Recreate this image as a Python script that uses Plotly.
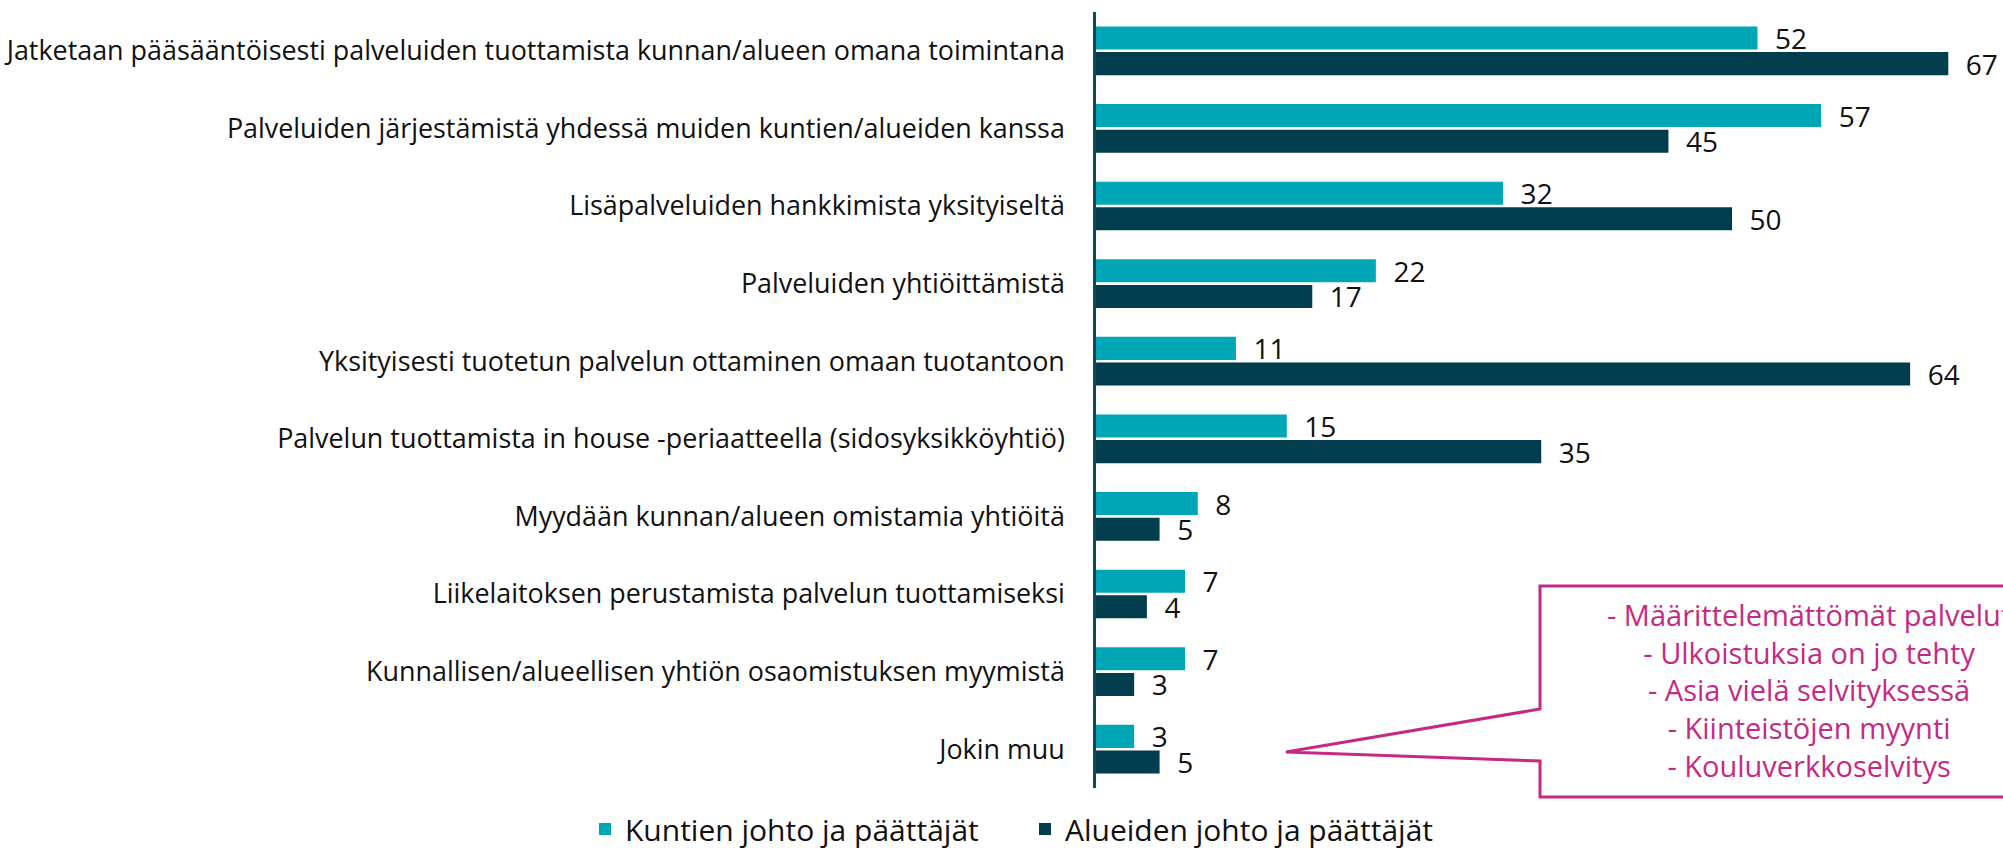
import plotly.graph_objects as go

categories = [
    "Jatketaan pääsääntöisesti palveluiden tuottamista kunnan/alueen omana toimintana",
    "Palveluiden järjestämistä yhdessä muiden kuntien/alueiden kanssa",
    "Lisäpalveluiden hankkimista yksityiseltä",
    "Palveluiden yhtiöittämistä",
    "Yksityisesti tuotetun palvelun ottaminen omaan tuotantoon",
    "Palvelun tuottamista in house -periaatteella (sidosyksikköyhtiö)",
    "Myydään kunnan/alueen omistamia yhtiöitä",
    "Liikelaitoksen perustamista palvelun tuottamiseksi",
    "Kunnallisen/alueellisen yhtiön osaomistuksen myymistä",
    "Jokin muu",
]
kuntien = [52, 57, 32, 22, 11, 15, 8, 7, 7, 3]
alueiden = [67, 45, 50, 17, 64, 35, 5, 4, 3, 5]
series_names = ["Kuntien johto ja päättäjät", "Alueiden johto ja päättäjät"]
callout_lines = [
    "- Määrittelemättömät palvelut",
    "- Ulkoistuksia on jo tehty",
    "- Asia vielä selvityksessä",
    "- Kiinteistöjen myynti",
    "- Kouluverkkoselvitys",
]

TEAL = "#00A5B6"
DARK = "#023D4D"
PINK = "#C42A85"
FONT = "Open Sans"

fig = go.Figure()
for name, vals, col in [(series_names[0], kuntien, TEAL), (series_names[1], alueiden, DARK)]:
    fig.add_trace(go.Bar(
        y=categories, x=vals, name=name, orientation="h",
        marker=dict(color=col, line=dict(width=0)),
        text=vals, texttemplate="\u00a0\u00a0%{x}", textposition="outside",
        textfont=dict(family=FONT, size=28, color="#111111"),
        constraintext="none",
        cliponaxis=False,
    ))

W, H = 2003, 850
L, R, T, B = 1096, 0, 12, 62
pw, ph = W - L - R, H - T - B

def px(x):
    return (x - L) / pw

def py(y):
    return (H - B - y) / ph

# callout bubble
box_l, box_t, box_b, box_r = 1540, 586, 797, 2100
tip_x, tip_y = 1286, 752
base_u, base_d = 709, 761
path = (f"M {px(box_l)},{py(box_t)} L {px(box_r)},{py(box_t)} L {px(box_r)},{py(box_b)} "
        f"L {px(box_l)},{py(box_b)} L {px(box_l)},{py(base_d)} L {px(tip_x)},{py(tip_y)} "
        f"L {px(box_l)},{py(base_u)} Z")
fig.add_shape(type="path", path=path, xref="paper", yref="paper",
              line=dict(color=PINK, width=3), fillcolor="white", layer="above")
fig.add_annotation(text="<br>".join(callout_lines), xref="paper", yref="paper",
                   x=px(1809), y=py(690), xanchor="center", yanchor="middle",
                   showarrow=False, align="center",
                   font=dict(family=FONT, size=29, color=PINK))

fig.update_layout(
    width=W, height=H,
    margin=dict(l=L, r=R, t=T, b=B, autoexpand=False),
    plot_bgcolor="white", paper_bgcolor="white",
    barmode="group", bargap=0.34, bargroupgap=0.1,
    font=dict(family=FONT, color="#111111"),
    xaxis=dict(range=[0, 71.3], visible=False, fixedrange=True),
    yaxis=dict(autorange="reversed", showline=True, linecolor="#0E4B58", linewidth=2.5,
               ticks="", showgrid=False, tickfont=dict(family=FONT, size=26.9, color="#111111"),
               ticklabelstandoff=23, automargin=False),
    legend=dict(orientation="h", xref="paper", yref="paper",
                x=px(585), xanchor="left", y=py(829), yanchor="middle",
                font=dict(family=FONT, size=30, color="#111111"),
                itemwidth=30, entrywidth=395, entrywidthmode="pixels",
                traceorder="normal"),
    showlegend=True,
)

fig.write_html("out.html", config={"displayModeBar": False},
               post_script="document.body.style.margin='0';")
